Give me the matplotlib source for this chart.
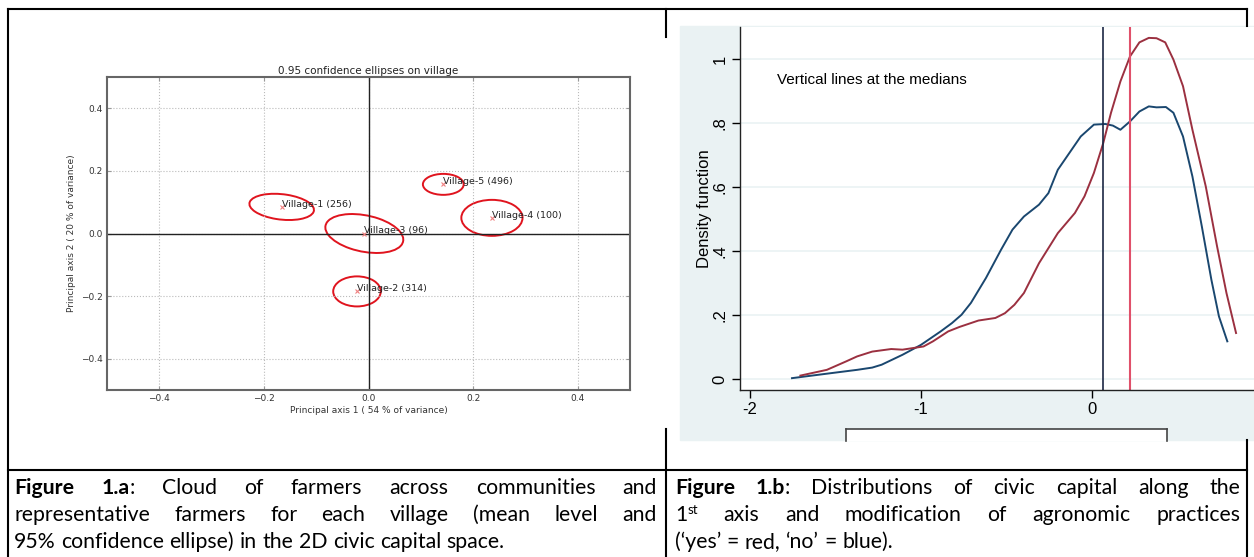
import matplotlib
matplotlib.use("Agg")
import matplotlib.pyplot as plt
from matplotlib.patches import Ellipse, Rectangle
from matplotlib.lines import Line2D

# ---- data: figure 1.a (village means and 95% ellipses)
villages = ["Village-1 (256)", "Village-2 (314)", "Village-3 (96)", "Village-4 (100)", "Village-5 (496)"]
mean_x = [-0.166, -0.022, -0.008, 0.236, 0.143]
mean_y = [0.085, -0.185, 0.0, 0.050, 0.157]
ell_w = [0.126, 0.091, 0.160, 0.117, 0.078]
ell_h = [0.080, 0.096, 0.110, 0.115, 0.067]
ell_angle = [-15, 0, -30, 0, 0]

# ---- data: figure 1.b (density of civic capital, 'no' = blue, 'yes' = red)
blue_x = [-1.754, -1.55, -1.373, -1.285, -1.23, -1.108, -1.0, -0.885, -0.819, -0.763,
          -0.708, -0.62, -0.531, -0.465, -0.398, -0.31, -0.255, -0.2, -0.133, -0.066,
          0.011, 0.078, 0.122, 0.166, 0.222, 0.277, 0.332, 0.377, 0.432, 0.476,
          0.532, 0.587, 0.642, 0.698, 0.742, 0.791]
blue_y = [0.003, 0.017, 0.029, 0.036, 0.045, 0.076, 0.107, 0.149, 0.175, 0.201,
          0.238, 0.316, 0.405, 0.467, 0.508, 0.545, 0.581, 0.654, 0.706, 0.758,
          0.795, 0.797, 0.792, 0.779, 0.805, 0.836, 0.852, 0.849, 0.850, 0.832,
          0.758, 0.633, 0.477, 0.310, 0.196, 0.118]
red_x = [-1.705, -1.55, -1.439, -1.373, -1.285, -1.174, -1.108, -0.985, -0.93, -0.841,
         -0.775, -0.664, -0.565, -0.509, -0.454, -0.398, -0.31, -0.2, -0.1, -0.044,
         0.011, 0.066, 0.111, 0.166, 0.222, 0.277, 0.332, 0.377, 0.428, 0.476,
         0.532, 0.587, 0.665, 0.731, 0.786, 0.842]
red_y = [0.011, 0.029, 0.055, 0.071, 0.086, 0.094, 0.092, 0.102, 0.118, 0.149,
         0.163, 0.183, 0.191, 0.206, 0.232, 0.269, 0.362, 0.456, 0.519, 0.571,
         0.644, 0.738, 0.832, 0.930, 1.008, 1.052, 1.066, 1.065, 1.052, 0.998,
         0.915, 0.779, 0.602, 0.415, 0.269, 0.144]
median_no = 0.064
median_yes = 0.22

cap_a = ["Figure 1.a: Cloud of farmers across communities and",
         "representative farmers for each village (mean level and",
         "95% confidence ellipse) in the 2D civic capital space."]
cap_b = ["Figure 1.b: Distributions of civic capital along the",
         "1st axis and modification of agronomic practices",
         "(\u2018yes\u2019 = red, \u2018no\u2019 = blue)."]

W, H = 1254, 557
fig = plt.figure(figsize=(W / 100, H / 100), dpi=100)

def fx(px):
    return px / W

def fy(py):
    return 1 - py / H

# ---------------- left chart
ax = fig.add_axes([fx(107), fy(390), (630 - 107) / W, (390 - 77) / H])
ax.set_xlim(-0.5, 0.5)
ax.set_ylim(-0.5, 0.5)
ax.set_xticks([-0.4, -0.2, 0.0, 0.2, 0.4])
ax.set_yticks([-0.4, -0.2, 0.0, 0.2, 0.4])
ax.tick_params(labelsize=6.5, labelcolor="#333333", direction="in", length=3,
               color="#999999", top=True, right=True, pad=3)
ax.grid(True, ls=":", color="#bbbbbb", lw=0.8)
for s in ax.spines.values():
    s.set_color("#666666")
    s.set_linewidth(1.5)
ax.axhline(0, color="#222222", lw=1.0)
ax.axvline(0, color="#222222", lw=1.0)
for i in range(len(villages)):
    ax.add_patch(Ellipse((mean_x[i], mean_y[i]), ell_w[i], ell_h[i], angle=ell_angle[i],
                         fill=False, ec="#e0141e", lw=1.4))
    ax.plot(mean_x[i], mean_y[i], marker="x", ms=2.5, color="#f08080", mew=0.8)
    ax.annotate(villages[i], (mean_x[i], mean_y[i]), xytext=(0, 2), textcoords="offset points",
                fontsize=6.8, ha="left", va="center", color="#222222")
ax.set_title("0.95 confidence ellipses on village", fontsize=7.5, pad=2, color="#222222")
ax.set_xlabel("Principal axis 1 ( 54 % of variance)", fontsize=6.5, color="#333333", va="center")
ax.xaxis.set_label_coords(0.5, -0.067)
ax.set_ylabel("Principal axis 2 ( 20 % of variance)", fontsize=6.5, color="#333333", va="center")
ax.yaxis.set_label_coords(-0.068, 0.5)

# ---------------- right chart (stata style)
stata_bg = "#eaf2f3"
fig.patches.append(Rectangle((fx(680), fy(440)), (1254 - 680) / W, (440 - 26) / H,
                             transform=fig.transFigure, color=stata_bg, zorder=-1))
sans = ["Liberation Sans", "DejaVu Sans"]
ax2 = fig.add_axes([fx(740), fy(390), (1254 - 740) / W, (390 - 27) / H])
ax2.set_facecolor("white")
ax2.set_xlim(-2.058, 0.947)
ax2.set_ylim(-0.034, 1.1)
ax2.spines["top"].set_visible(False)
ax2.spines["right"].set_visible(False)
for s in ("left", "bottom"):
    ax2.spines[s].set_color("#222222")
    ax2.spines[s].set_linewidth(1.0)
ax2.set_yticks([0, 0.2, 0.4, 0.6, 0.8, 1.0])
ax2.set_yticklabels(["0", ".2", ".4", ".6", ".8", "1"], rotation=90, va="center",
                    family=sans, fontsize=12)
ax2.set_xticks([-2, -1, 0])
ax2.set_xticklabels(["-2", "-1", "0"], family=sans, fontsize=12)
ax2.tick_params(length=6, width=1, direction="out", pad=3)
ax2.yaxis.grid(True, color=stata_bg, lw=1.2)
ax2.set_axisbelow(True)
ax2.plot(blue_x, blue_y, color="#1a476f", lw=1.4)
ax2.plot(red_x, red_y, color="#9b3040", lw=1.4)
ax2.axvline(median_no, color="#1c2744", lw=1.2)
ax2.axvline(median_yes, color="#e0506a", lw=1.5)
ax2.set_ylabel("Density function", fontsize=12, family=sans, va="center")
ax2.yaxis.set_label_coords((705 - 740) / 514, 0.5)

fig.text(fx(777), fy(80), "Vertical lines at the medians", family=sans, fontsize=11,
         ha="left", va="center")

# legend box, cut off at the bottom of the picture
fig.patches.append(Rectangle((fx(846), fy(441)), (1167 - 846) / W, (441 - 429) / H,
                             transform=fig.transFigure, fc="white", ec="none", zorder=1))
for xs, ys in [([846, 846], [441, 429]), ([846, 1167], [429, 429]), ([1167, 1167], [429, 441])]:
    fig.add_artist(Line2D([fx(v) for v in xs], [fy(v) for v in ys], color="#444444", lw=1.2))

# ---------------- table lines
table_lines = [([8, 1247], [9, 9]), ([8, 8], [9, 557]), ([8, 1247], [470, 470]),
               ([666, 666], [9, 37]), ([666, 666], [429, 557]),
               ([1247, 1247], [9, 26]), ([1247, 1247], [440, 557])]
for xs, ys in table_lines:
    fig.add_artist(Line2D([fx(v) for v in xs], [fy(v) for v in ys], color="black", lw=1.5))

# ---------------- captions (justified)
r = fig.canvas.get_renderer()
cap_font = ["Lato", "DejaVu Sans"]
cap_size = 14.0

def segs(word):
    if word == "Figure":
        return [(word, True, False)]
    if word in ("1.a:", "1.b:"):
        return [(word[:-1], True, False), (":", False, False)]
    if word == "1st":
        return [("1", False, False), ("st", False, True)]
    return [(word, False, False)]

def seg_text(x, y, text, bold, sup):
    return fig.text(fx(x), fy(y - (7 if sup else 0)), text, family=cap_font,
                    fontsize=cap_size * (0.62 if sup else 1.0),
                    fontweight="bold" if bold else "normal", ha="left", va="baseline")

def measure(text, bold=False, sup=False):
    t = seg_text(0, 0, text, bold, sup)
    w = t.get_window_extent(r).width
    t.remove()
    return w

# pick the size so the last line of caption a spans like the reference (~493 px)
cap_size = cap_size * 493 / measure(cap_a[2])

def draw_line(line, x0, x1, y, justify):
    words = [segs(w) for w in line.split(" ")]
    widths = [sum(measure(t, b, s) for t, b, s in w) for w in words]
    if justify:
        gap = (x1 - x0 - sum(widths)) / (len(words) - 1)
    else:
        gap = measure("a a") - 2 * measure("a")
    x = x0
    for w, wd in zip(words, widths):
        for text, bold, sup in w:
            t = seg_text(x, y, text, bold, sup)
            x += t.get_window_extent(r).width
        x += gap

baselines = [494, 521, 548]
for i, line in enumerate(cap_a):
    draw_line(line, 14, 657, baselines[i], i < 2)
for i, line in enumerate(cap_b):
    draw_line(line, 675, 1240, baselines[i], i < 2)

fig.savefig("out.png", dpi=100)
